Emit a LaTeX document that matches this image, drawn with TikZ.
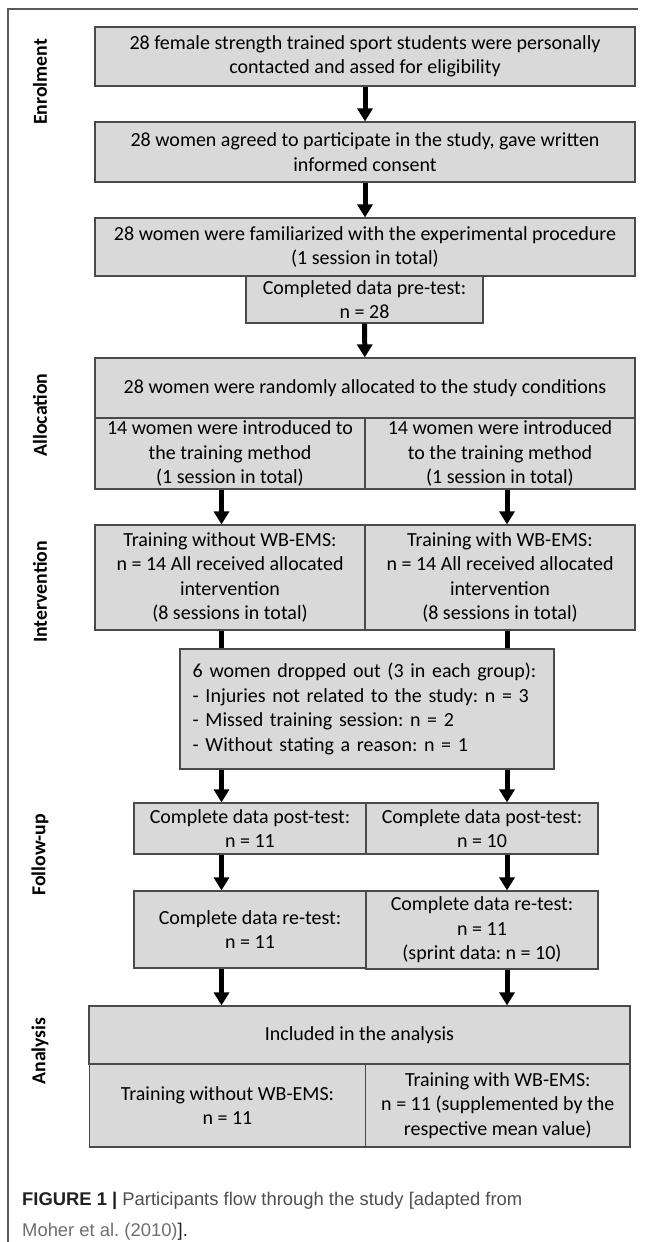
\documentclass[tikz,border=0pt]{standalone}
\usepackage{fontspec}
\setmainfont{Carlito}
\newfontfamily\capfont{Liberation Sans}
\usetikzlibrary{arrows.meta}
\definecolor{boxfill}{HTML}{D9D9D9}
\definecolor{boxline}{HTML}{4A4A4A}
\definecolor{frameline}{HTML}{5A5A5A}
\definecolor{capdark}{HTML}{231F20}
\definecolor{captext}{HTML}{4D4D4F}
\definecolor{capcite}{HTML}{6D6E71}
\frenchspacing
\begin{document}
\begin{tikzpicture}[x=1pt,y=-1pt,
  box/.style={draw=boxline, fill=boxfill, line width=1.2pt, inner sep=0pt,
    align=center, font=\fontsize{20}{24.5}\selectfont, text=black},
  side/.style={rotate=90, inner sep=0pt, font=\fontsize{19.8}{22}\selectfont\bfseries, text=black},
  arr/.style={line width=5pt, -{Triangle[width=15pt,length=13pt]}},
  capline/.style={anchor=base west, inner sep=0pt, font=\capfont\fontsize{18.4}{22}\selectfont}
]
\useasboundingbox (0,0) rectangle (657,1242);
\draw[line width=1.2pt, frameline] (8,1242) -- (8,9) -- (638,9);

% column coordinates
\coordinate (cM) at (365,0);
\coordinate (cL) at (221.5,0);
\coordinate (cR) at (507,0);

% side labels
\node[side] (lEnr) at (40,82) {Enrolment};
\node[side] (lAll) at (40,415) {Allocation};
\node[side] (lInt) at (40,592) {Intervention};
\node[side] (lFol) at (40,855) {Follow-up};
\node[side] (lAna) at (40,1051) {Analysis};

% enrolment
\node[box, minimum width=540pt, minimum height=59pt] (b1) at (365,56.5)
  {28 female strength trained sport students were personally\\contacted and assed for eligibility};
\node[box, minimum width=540pt, minimum height=60pt] (b2) at (365,152)
  {28 women agreed to participate in the study, gave written\\informed consent};
\node[box, minimum width=540pt, minimum height=58pt] (b3) at (365,247)
  {28 women were familiarized with the experimental procedure\\(1 session in total)};
\node[box, minimum width=237pt, minimum height=47pt] (pre) at (364.5,299.5)
  {Completed data pre-test:\\n = 28};

% allocation
\node[box, minimum width=540pt, minimum height=60pt] (al) at (365,388)
  {28 women were randomly allocated to the study conditions};
\node[box, minimum width=270pt, minimum height=71pt] (alL) at (230,453.5)
  {14 women were introduced to\\the training method\\(1 session in total)};
\node[box, minimum width=270pt, minimum height=71pt] (alR) at (500,453.5)
  {14 women were introduced\\to the training method\\(1 session in total)};

% intervention
\node[box, minimum width=270pt, minimum height=105pt] (inL) at (230,577.5)
  {Training without WB-EMS:\\n = 14 All received allocated\\intervention\\(8 sessions in total)};
\node[box, minimum width=270pt, minimum height=105pt] (inR) at (500,577.5)
  {Training with WB-EMS:\\n = 14 All received allocated\\intervention\\(8 sessions in total)};

% follow-up
\node[box, minimum width=232pt, minimum height=51pt] (poL) at (250,828.5)
  {Complete data post-test:\\n = 11};
\node[box, minimum width=232pt, minimum height=51pt] (poR) at (482,828.5)
  {Complete data post-test:\\n = 10};
\node[box, minimum width=232pt, minimum height=77pt] (reL) at (250,929.5)
  {Complete data re-test:\\n = 11};
\node[box, minimum width=232pt, minimum height=78pt] (reR) at (482,930)
  {Complete data re-test:\\n = 11\\(sprint data: n = 10)};

% analysis
\node[box, minimum width=541pt, minimum height=58pt] (an) at (359.5,1035)
  {Included in the analysis};
\node[box, minimum width=276.5pt, minimum height=83pt] (anL) at (227.5,1105.5)
  {Training without WB-EMS:\\n = 11};
\node[box, minimum width=264.5pt, minimum height=83pt] (anR) at (497.8,1105.5)
  {Training with WB-EMS:\\n = 11 (supplemented by the\\respective mean value)};

% connectors
\draw[arr] (b1) -- (b2);
\draw[arr] (b2) -- (b3);
\draw[arr] (pre) -- (al);
\draw[arr] (alL.south -| cL) -- (inL.north -| cL);
\draw[arr] (alR.south -| cR) -- (inR.north -| cR);
\draw[arr] (inL.south -| cL) -- (poL.north -| cL);
\draw[arr] (inR.south -| cR) -- (poR.north -| cR);
\draw[arr] (poL.south -| cL) -- (reL.north -| cL);
\draw[arr] (poR.south -| cR) -- (reR.north -| cR);
\draw[arr] (reL.south -| cL) -- (an.north -| cL);
\draw[arr] (reR.south -| cR) -- (an.north -| cR);

% drop-out box, drawn over the two connectors
\node[box, minimum width=374pt, minimum height=120pt, text width=348.6pt, align=left] (drop) at (367,709)
  {6 women dropped out (3 in each group):\\- Injuries not related to the study: n = 3\\- Missed training session: n = 2\\- Without stating a reason: n = 1};

% caption
\node[capline] (cap1) at (22,1205)
  {\textcolor{capdark}{\bfseries FIGURE 1 |} \textcolor{captext}{Participants flow through the study [adapted from}};
\node[capline] (cap2) at (22,1236)
  {\textcolor{capcite}{Moher et al. (2010)}\textcolor{capdark}{].}};
\end{tikzpicture}
\end{document}
